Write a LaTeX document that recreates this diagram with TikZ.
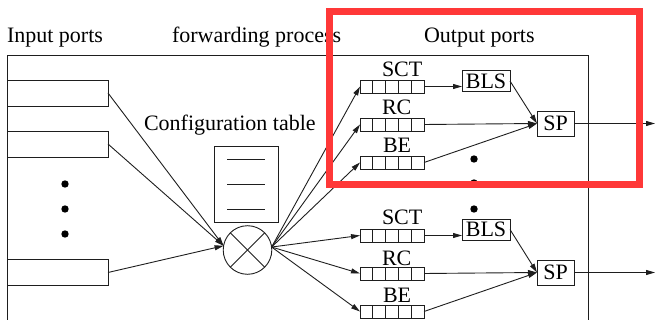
\documentclass[tikz,border=0pt]{standalone}
\usepackage{fontspec}
\setmainfont{Liberation Serif}
\usetikzlibrary{arrows.meta,calc}
\definecolor{hl}{RGB}{255,56,56}
\definecolor{ink}{RGB}{30,30,30}
\begin{document}
\begin{tikzpicture}[x=1pt,y=-1pt,
  font=\fontsize{22}{26}\selectfont,
  line width=0.9pt, draw=ink,
  every node/.style={inner sep=0pt, outer sep=0pt},
  arr/.style={-{Triangle[length=9pt,width=5pt]}, draw=ink},
  inbox/.style={draw=ink, minimum width=101pt, minimum height=26pt},
  qbox/.style={draw=ink, minimum width=64pt, minimum height=13pt},
  pbox/.style={draw=ink, minimum height=21pt, inner xsep=2pt},
  lbl/.style={anchor=base west},
  dot/.style={fill=black},
  hlbox/.style={draw=hl, line width=7pt}]
\useasboundingbox (0,0) rectangle (655,320);

% frame of the switch
\draw (588,320) -- (588,55) -- (7,55) -- (7,320);

% headings
\node[lbl] (hin)  at (7,43)   {Input ports};
\node[lbl] (hfw)  at (172,43) {forwarding process};
\node[lbl] (hout) at (424,43) {Output ports};
\node[lbl] (hcfg) at (144,131) {Configuration table};

% input ports
\node[inbox] (in1) at (57.5,93)    {};
\node[inbox] (in2) at (57.5,144)   {};
\node[inbox] (in3) at (57.5,272.5) {};
\foreach \y in {184,209,234} \fill[dot] (65,\y) circle (3.7);

% configuration table
\node[draw=ink, minimum width=64pt, minimum height=76pt] (cfg) at (246,184) {};
\foreach \dy in {-25,0,25}
  \draw ($(cfg.center)+(-19,\dy)$) -- ($(cfg.center)+(19,\dy)$);

% switching element
\node[draw=ink, circle, minimum size=48.6pt] (sw) at (247.5,250) {};
\draw (sw.45) -- (sw.225);
\draw (sw.135) -- (sw.315);

\foreach \p in {in1,in2,in3} \draw[arr] (\p.east) -- (sw.170);

% output queues
\node[qbox] (q1) at (392,86.5)  {};
\node[qbox] (q2) at (392,124.5) {};
\node[qbox] (q3) at (392,162.5) {};
\node[qbox] (q4) at (392,235.5) {};
\node[qbox] (q5) at (392,273.5) {};
\node[qbox] (q6) at (392,311.5) {};
\foreach \q in {q1,q2,q3,q4,q5,q6}
  \foreach \i in {1,2,3,4}
    \draw ($(\q.south west)!\i/5!(\q.south east)$) -- ($(\q.north west)!\i/5!(\q.north east)$);

\node[lbl] (t1) at (382,77)  {SCT};
\node[lbl] (t2) at (382,115) {RC};
\node[lbl] (t3) at (383,153) {BE};
\node[lbl] (t4) at (382,225) {SCT};
\node[lbl] (t5) at (382,265) {RC};
\node[lbl] (t6) at (383,302) {BE};

\foreach \q in {q1,q2,q3,q4,q5,q6} \draw[arr] (sw.7) -- (\q.west);

% schedulers
\node[pbox, minimum width=48pt] (bls1) at (486,81)    {BLS};
\node[pbox, minimum width=37pt, minimum height=25pt] (sp1) at (555.5,123.5) {SP};
\node[pbox, minimum width=48pt] (bls2) at (486,229.5) {BLS};
\node[pbox, minimum width=37pt, minimum height=25pt] (sp2) at (555.5,272.5) {SP};

\draw[arr] (q1.east) -- (q1.east -| bls1.west);
\draw[arr] (bls1.east) -- (sp1.west);
\draw[arr] (q2.east) -- (sp1.west);
\draw[arr] (q3.east) -- (sp1.west);
\draw[arr] (q4.east) -- (q4.east -| bls2.west);
\draw[arr] (bls2.east) -- (sp2.west);
\draw[arr] (q5.east) -- (sp2.west);
\draw[arr] (q6.east) -- (sp2.west);

\coordinate (o1) at (655,123.5);
\coordinate (o2) at (655,272.5);
\draw[arr] (sp1.east) -- (o1);
\draw[arr] (sp2.east) -- (o2);

\foreach \y in {159,183,209} \fill[dot] (474,\y) circle (3.7);

% highlight frame
\draw[hlbox] (329.5,12) rectangle (639.5,184.5);
\end{tikzpicture}
\end{document}
